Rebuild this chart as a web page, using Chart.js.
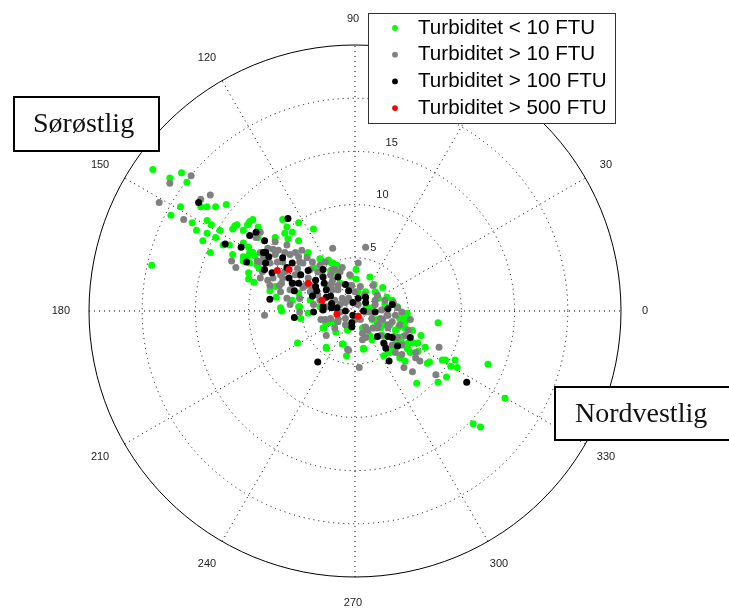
<!DOCTYPE html>
<html>
<head>
<meta charset="utf-8">
<title>Turbiditet</title>
<script src="https://cdn.jsdelivr.net/npm/chart.js@4"></script>
<style>
    html, body { margin: 0; padding: 0; background: #fff; }
    canvas { display: block; }
</style>
</head>
<body>
<canvas id="chart" width="729" height="613"></canvas>
<script>
// [east, north], in radial units
const under10 = [
    [-19.0,13.3],[-17.4,12.5],[-16.3,13.0],[-15.8,12.1],[-16.4,9.8],[-17.3,9.0],[-14.5,9.8],[-13.9,9.8],
    [-13.1,9.8],[-12.1,10.0],[-15.3,8.3],[-14.9,7.6],[-13.9,8.5],[-13.5,8.1],[-13.9,7.3],[-12.7,7.6],
    [-13.1,6.9],[-14.3,6.6],[-13.6,5.5],[-19.1,4.3],[-12.4,6.2],[-11.8,6.2],[-11.5,7.7],[-11.1,8.1],
    [-11.3,8.0],[-10.5,7.6],[-10.1,8.1],[-9.9,8.4],[-9.6,8.6],[-9.1,7.9],[-10.5,6.4],[-10.0,6.0],
    [-11.5,5.3],[-10.5,5.1],[-10.1,5.1],[-9.6,5.5],[-9.4,5.2],[-10.5,4.7],[-9.9,4.5],[-9.2,4.3],
    [-10.0,3.6],[-10.0,3.0],[-9.0,4.0],[-9.1,6.9],[-6.8,8.6],[-6.4,7.9],[-5.3,8.3],[-3.9,7.7],
    [-5.9,7.4],[-6.6,7.3],[-6.3,6.8],[-5.3,6.6],[-7.5,6.9],[-9.5,2.7],[-8.0,1.9],[-7.5,2.3],
    [-7.4,1.3],[-7.0,0.3],[-5.2,1.2],[-5.3,0.4],[-4.5,5.3],[-3.3,4.9],[-2.5,4.8],[-2.2,4.5],
    [-1.7,4.3],[-3.9,4.1],[-4.4,5.5],[-3.1,3.4],[-4.2,1.0],[-3.3,0.4],[-5.3,1.7],[-5.9,1.0],
    [-2.5,4.7],[-2.1,4.5],[-3.2,4.8],[-2.3,3.8],[-1.7,3.6],[-2.0,3.9],[0.1,3.9],[-0.4,3.3],
    [0.1,3.0],[1.4,3.2],[1.8,2.5],[2.6,2.2],[3.0,1.3],[3.5,1.0],[4.0,0.4],[4.9,-0.4],
    [4.7,-1.0],[1.1,0.4],[1.6,0.3],[1.0,1.8],[0.3,1.8],[1.9,1.8],[2.1,-1.1],[1.6,-0.8],
    [1.4,-2.3],[2.6,-2.3],[3.6,-2.4],[4.2,-2.5],[4.5,-2.4],[6.2,-2.3],[5.9,-3.0],[4.4,-3.0],
    [4.9,-3.5],[3.6,-3.4],[-1.2,-3.1],[-1.8,-2.0],[-3.0,-1.6],[-2.7,-3.4],[-0.7,-1.7],[0.8,-3.5],
    [-2.6,2.4],[-2.2,3.7],[-1.4,2.6],[-2.8,-1.0],[-1.9,-1.1],[0.7,-1.6],[-6.9,0.0],[-5.1,-0.7],
    [-4.4,-0.2],[-5.4,-3.0],[-2.7,-3.5],[-2.9,-1.6],[-1.1,-3.1],[-0.8,-4.2],[0.8,-3.6],[-0.7,-1.8],
    [-2.5,-1.1],[-5.2,0.4],[7.8,-1.1],[6.6,-3.4],[5.9,-3.8],[5.0,-3.6],[5.2,-3.9],[4.2,-4.4],
    [4.7,-4.7],[7.0,-4.8],[6.8,-4.9],[8.2,-4.6],[8.5,-4.6],[9.4,-4.6],[9.0,-5.2],[9.6,-5.3],
    [12.5,-5.0],[8.6,-6.2],[7.8,-6.7],[5.8,-6.8],[14.1,-8.2],[11.1,-10.6],[11.8,-10.9],[2.7,-4.2],
    [3.3,-3.9],[5.0,-3.0],[2.1,-0.8],[1.7,-1.6],[3.3,-1.3],[4.1,-1.5],[4.5,-0.7],[4.9,-0.2],
    [3.8,-2.7],[4.2,-3.0],[5.5,-3.0],[-9.9,5.5],[-9.1,4.6],
    [2.8,-1.3],[3.8,-1.8],[2.4,-1.6],[4.7,-1.6],[4.2,-0.7],[5.4,-1.8],[1.6,-2.7],[3.1,-3.9],
    [2.8,0.6],[2.2,1.2]
];
const over10 = [
    [-17.4,12.0],[-15.4,12.7],[-18.4,10.2],[-13.6,10.9],[-14.5,10.5],[-16.1,8.6],[-11.6,4.7],[-11.2,4.1],
    [-9.3,6.9],[-9.2,4.7],[-8.9,5.5],[-8.9,7.4],[-7.5,6.5],[-6.4,6.2],[-7.2,5.7],[-7.7,5.8],
    [-6.6,5.5],[-5.6,5.5],[-5.0,5.7],[-5.3,5.1],[-4.5,5.0],[-4.0,4.6],[-4.9,4.5],[-7.5,5.3],
    [-8.9,4.6],[-8.6,5.0],[-7.3,4.6],[-8.0,4.5],[-8.9,3.1],[-8.2,2.9],[-7.7,3.1],[-6.8,3.1],
    [-5.4,4.0],[-4.4,3.1],[-6.4,1.2],[-6.9,2.6],[-5.8,2.6],[-4.9,2.2],[-4.2,1.8],[-2.3,2.3],
    [-2.1,5.9],[-1.9,3.9],[-2.1,2.9],[-2.3,3.4],[-3.5,1.5],[-6.6,3.7],[-7.0,3.4],[1.0,6.0],
    [0.3,4.5],[-1.2,4.1],[-2.2,2.6],[-1.6,2.0],[-2.1,2.0],[-1.2,1.2],[-0.6,1.2],[-2.6,0.4],
    [-1.6,-0.8],[0.5,2.3],[1.7,2.4],[2.1,1.5],[1.0,-0.1],[1.4,-0.1],[2.4,-0.7],[3.0,-0.4],
    [3.6,0.8],[4.4,-0.1],[3.1,-1.3],[4.2,-1.3],[1.0,-1.5],[1.7,-1.6],[0.7,-2.1],[1.0,-2.5],
    [5.0,-1.8],[-2.7,-2.3],[-0.7,-3.6],[-8.5,-0.4],[-0.6,-3.7],[0.4,-5.3],[-3.2,-0.8],[-5.2,-0.1],
    [-2.3,-0.7],[-1.6,-1.0],[-6.1,0.6],[-3.9,0.6],[-7.0,1.8],[7.9,-3.4],[4.4,-4.1],[5.7,-4.4],
    [5.7,-3.9],[6.1,-4.7],[4.6,-5.3],[5.4,-5.7],[7.6,-6.0],[2.1,-1.6],[2.6,-0.8],[3.1,-0.4],
    [3.8,-0.4],[3.1,-1.6],[4.0,-2.5],[3.5,-3.2],[2.4,-2.3],[-5.2,3.4],[-1.4,0.6],[-4.2,2.4],
    [-3.3,4.3],[-0.5,2.4],[0.0,-0.8],[-0.9,-1.3],[1.9,0.6],[2.8,1.0],
    [-6.1,5.3],[-5.2,4.6],[-7.1,2.4],[-6.1,2.0],[-5.6,3.4],[-4.7,2.4],[-4.0,2.0],[-3.5,3.7],
    [-2.8,4.6],[-2.1,3.9],[-1.6,2.4],[-1.4,3.7],[-0.5,3.4],[-0.3,2.4],[0.0,1.8],[-3.3,1.0],
    [-1.9,1.0],[-1.4,-0.1],[-0.9,0.8],[0.3,0.6],[-2.8,-0.8],[-1.9,-1.6],[-0.9,-0.7],[0.5,-0.8],
    [0.9,1.5],[1.9,1.0],[2.5,0.1],[1.6,-0.7],[0.7,-2.7],[1.2,-1.8],[2.2,-1.3],[3.5,-1.0],
    [4.7,-2.3],[5.2,-0.8],[4.0,0.3],[2.8,-3.2],[3.8,-3.9],[4.4,-3.2],[-4.2,3.9],[-5.2,1.2],
    [-8.0,2.4],[-8.7,3.7],[-6.8,4.6],[-8.2,5.9]
];
const over100 = [
    [-14.7,10.2],[-9.9,7.1],[-9.3,7.4],[-12.2,6.3],[-10.7,6.0],[-10.2,4.6],[-6.3,8.7],[-8.5,6.6],
    [-8.6,5.5],[-8.4,5.5],[-8.1,5.1],[-8.4,4.5],[-8.5,3.9],[-7.8,3.6],[-6.8,5.0],[-5.9,4.5],
    [-6.4,4.1],[-6.2,3.1],[-5.9,2.6],[-5.3,2.6],[-5.1,3.4],[-4.4,3.8],[-3.7,2.9],[-3.0,3.2],
    [-3.0,3.9],[-2.9,2.6],[-3.7,2.3],[-1.6,3.2],[-3.6,1.9],[-2.7,2.0],[-4.0,1.4],[-5.7,1.9],
    [-8.0,1.1],[-2.3,1.4],[-2.2,0.7],[-3.0,0.4],[-0.9,2.5],[-0.6,1.9],[-2.7,1.3],[-3.0,0.1],
    [-1.7,0.3],[-0.9,0.0],[-0.2,0.8],[0.3,1.2],[1.0,1.3],[1.0,0.8],[1.9,-0.1],[3.1,0.2],
    [3.5,0.6],[0.8,0.0],[-0.2,-0.4],[-0.3,-1.5],[-0.3,-1.1],[2.1,-2.4],[3.1,-2.4],[3.5,-2.5],
    [5.2,-2.5],[2.7,-3.0],[2.9,-3.5],[-2.2,0.3],[-5.7,-0.6],[-3.9,-0.1],[-3.5,-4.8],[10.5,-6.7],
    [4.0,-3.3],[3.2,-4.7]
];
const over500 = [[-7.3,3.8],[-6.2,3.9],[-4.4,2.6],[-3.1,1.0],[-1.7,-0.3],[0.3,-0.5]];

const seriesNames = ["Turbiditet < 10 FTU", "Turbiditet > 10 FTU", "Turbiditet > 100 FTU", "Turbiditet > 500 FTU"];
const seriesColors = ["#00ff00", "#808080", "#000000", "#ff0000"];
const radialTicks = [5, 10, 15, 20, 25];
const radialLabels = [5, 10, 15];
const spokeAngles = [0, 30, 60, 90, 120, 150];
const angleLabels = [0, 30, 90, 120, 150, 180, 210, 240, 270, 300, 330];
const rMax = 25;

const toPoints = (rows) => rows.map((r) => ({ x: r[0], y: r[1] }));

// Polar grid, drawn under the points
const polarGrid = {
    id: "polarGrid",
    beforeDatasetsDraw(chart) {
        const ctx = chart.ctx;
        const xs = chart.scales.x;
        const ys = chart.scales.y;
        const cx = xs.getPixelForValue(0);
        const cy = ys.getPixelForValue(0);
        const unit = xs.getPixelForValue(1) - cx;

        ctx.save();
        ctx.strokeStyle = "#000";
        ctx.lineWidth = 1;
        ctx.setLineDash([1, 4]);
        radialTicks.slice(0, -1).forEach((r) => {
            ctx.beginPath();
            ctx.arc(cx, cy, r * unit, 0, Math.PI * 2);
            ctx.stroke();
        });
        spokeAngles.forEach((a) => {
            const c = Math.cos((a * Math.PI) / 180) * rMax;
            const s = Math.sin((a * Math.PI) / 180) * rMax;
            ctx.beginPath();
            ctx.moveTo(xs.getPixelForValue(-c), ys.getPixelForValue(-s));
            ctx.lineTo(xs.getPixelForValue(c), ys.getPixelForValue(s));
            ctx.stroke();
        });
        ctx.setLineDash([]);
        ctx.beginPath();
        ctx.arc(cx, cy, rMax * unit, 0, Math.PI * 2);
        ctx.stroke();

        ctx.fillStyle = "#222";
        ctx.font = "11px 'Liberation Sans'";
        ctx.textAlign = "center";
        ctx.textBaseline = "middle";
        angleLabels.forEach((a) => {
            const rad = (a * Math.PI) / 180;
            const lx = xs.getPixelForValue(27.45 * Math.cos(rad));
            const ly = ys.getPixelForValue(27.45 * Math.sin(rad));
            ctx.fillText(String(a), lx - 2, ly);
        });
        radialLabels.forEach((r) => {
            const rad = (80 * Math.PI) / 180;
            const lx = xs.getPixelForValue(r * Math.cos(rad));
            const ly = ys.getPixelForValue(r * Math.sin(rad));
            ctx.fillText(String(r), lx + 9, ly - 11);
        });
        ctx.restore();
    },
};

// Legend and the two direction boxes sit on top of everything
const overlays = {
    id: "overlays",
    afterDatasetsDraw(chart) {
        const ctx = chart.ctx;
        ctx.save();

        ctx.fillStyle = "#fff";
        ctx.fillRect(368, 13, 248, 110);
        ctx.strokeStyle = "#333";
        ctx.lineWidth = 1;
        ctx.strokeRect(368.5, 13.5, 247, 110);
        ctx.font = "20.6px 'Liberation Sans'";
        ctx.textAlign = "left";
        ctx.textBaseline = "middle";
        chart.data.datasets.forEach((ds, i) => {
            const rowY = 28 + i * 26.7;
            ctx.fillStyle = ds.backgroundColor;
            ctx.beginPath();
            ctx.arc(395, rowY, 2.9, 0, Math.PI * 2);
            ctx.fill();
            ctx.fillStyle = "#000";
            ctx.fillText(ds.label, 418, rowY);
        });

        ctx.lineWidth = 2;
        ctx.strokeStyle = "#000";
        ctx.font = "28px 'Liberation Serif'";
        ctx.textBaseline = "alphabetic";

        ctx.fillStyle = "#fff";
        ctx.fillRect(14, 97, 145, 54);
        ctx.strokeRect(14, 97, 145, 54);
        ctx.fillStyle = "#111";
        ctx.fillText("Sørøstlig", 33, 132);

        ctx.fillStyle = "#fff";
        ctx.fillRect(555, 387, 180, 53);
        ctx.strokeRect(555, 387, 180, 53);
        ctx.fillStyle = "#111";
        ctx.fillText("Nordvestlig", 575, 422);

        ctx.restore();
    },
};

// lower order is painted later, so red ends up on top
const makeSeries = (rows, i) => ({
    label: seriesNames[i],
    data: toPoints(rows),
    order: seriesNames.length - i,
    backgroundColor: seriesColors[i],
    borderColor: seriesColors[i],
    pointRadius: 3.5,
    pointBorderWidth: 0,
});

new Chart(document.getElementById("chart").getContext("2d"), {
    type: "scatter",
    data: {
        datasets: [under10, over10, over100, over500].map(makeSeries),
    },
    options: {
        responsive: false,
        animation: false,
        layout: {
            padding: { left: 89, right: 108, top: 45, bottom: 36 },
        },
        plugins: {
            legend: { display: false },
            tooltip: { enabled: false },
        },
        scales: {
            x: { min: -rMax, max: rMax, display: false },
            y: { min: -rMax, max: rMax, display: false },
        },
    },
    plugins: [polarGrid, overlays],
});
</script>
</body>
</html>
